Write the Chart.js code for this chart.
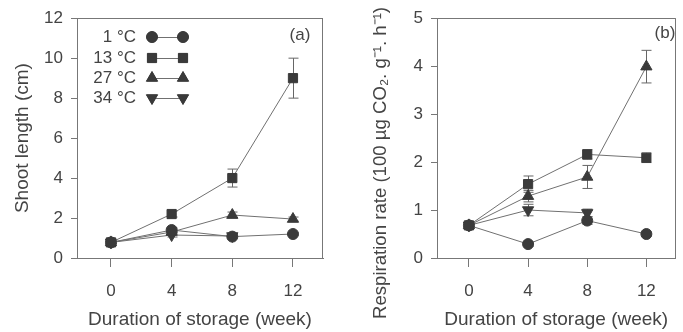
<!DOCTYPE html>
<html><head><meta charset="utf-8">
<script src="https://cdn.jsdelivr.net/npm/chart.js@4"></script>
<style>
html,body{margin:0;padding:0;background:#fff;}
#wrap{position:relative;width:683px;height:332px;overflow:hidden;background:#fff;}
#ca{position:absolute;left:0;top:0;}
#cb{position:absolute;left:340px;top:0;}
</style></head><body>
<div id="wrap"><canvas id="ca" width="340" height="332"></canvas><canvas id="cb" width="343" height="332"></canvas></div>
<script>
// ---------- data ----------
const weeks = [0, 4, 8, 12];
const xTicks = [0, 4, 8, 12];
const seriesNames = ['1 °C', '13 °C', '27 °C', '34 °C'];

// panel (a) shoot length (cm)
const shoot1  = [0.78, 1.40, 1.07, 1.20];
const shoot13 = [0.78, 2.20, 4.00, 9.00];
const shoot27 = [0.78, 1.30, 2.15, 1.95];
const shoot34 = [0.78, 1.15, 1.10, null];
const shootErr1  = [0.05, 0.10, 0.08, 0.08];
const shootErr13 = [0.05, 0.15, 0.45, 1.00];
const shootErr27 = [0.05, 0.10, 0.15, 0.10];
const shootErr34 = [0.05, 0.10, 0.10, null];
const shootTicks = [0, 2, 4, 6, 8, 10, 12];

// panel (b) respiration rate
const resp1  = [0.68, 0.29, 0.78, 0.50];
const resp13 = [0.68, 1.54, 2.16, 2.09];
const resp27 = [0.68, 1.29, 1.69, 3.99];
const resp34 = [0.68, 1.00, 0.94, null];
const respErr1  = [0.03, 0.05, 0.08, 0.05];
const respErr13 = [0.03, 0.17, 0.10, 0.10];
const respErr27 = [0.03, 0.12, 0.24, 0.34];
const respErr34 = [0.03, 0.12, 0.08, null];
const respTicks = [0, 1, 2, 3, 4, 5];

const xTitle = 'Duration of storage (week)';
const yTitleA = 'Shoot length (cm)';
const yTitleB = 'Respiration rate (100 µg CO₂. g⁻¹. h⁻¹)';

// ---------- styles ----------
const FONT = '"Liberation Sans", Arial, Helvetica, sans-serif';
const TEXT = '#444';
const AXIS = '#777';
const LINE = '#707070';
const MARK = '#3a3a3a';
const styles = [
  {pointStyle: 'circle',   radius: 5.5, rotation: 0},
  {pointStyle: 'rect',     radius: 6.5, rotation: 0},
  {pointStyle: 'triangle', radius: 6.5, rotation: 0},
  {pointStyle: 'triangle', radius: 6.5, rotation: 180}
];

function mkDatasets(vals, errs) {
  return vals.map((arr, k) => ({
    label: seriesNames[k],
    data: weeks.map((w, i) => ({x: w, y: arr[i]})).filter(p => p.y !== null),
    errors: errs[k],
    borderColor: LINE,
    borderWidth: 1,
    backgroundColor: MARK,
    pointBackgroundColor: MARK,
    pointBorderColor: MARK,
    pointBorderWidth: 1,
    pointStyle: styles[k].pointStyle,
    pointRadius: styles[k].radius,
    pointRotation: styles[k].rotation,
    tension: 0,
    fill: false
  }));
}

const errorBars = {
  id: 'errorBars',
  beforeDatasetsDraw(chart) {
    const {ctx, scales: {x, y}} = chart;
    ctx.save();
    ctx.strokeStyle = '#666';
    ctx.lineWidth = 1;
    chart.data.datasets.forEach(ds => {
      ds.data.forEach((p, i) => {
        const e = ds.errors[i];
        if (p.y === null || !e) return;
        const px = Math.round(x.getPixelForValue(p.x)) + 0.5;
        const t = y.getPixelForValue(p.y + e), b = y.getPixelForValue(p.y - e);
        ctx.beginPath();
        ctx.moveTo(px, t); ctx.lineTo(px, b);
        ctx.moveTo(px - 5, t); ctx.lineTo(px + 5, t);
        ctx.moveTo(px - 5, b); ctx.lineTo(px + 5, b);
        ctx.stroke();
      });
    });
    ctx.restore();
  }
};

function frame(label, lx, ly, legend, sideTitle) {
  return {
    id: 'frame',
    afterDraw(chart) {
      const {ctx, chartArea: a} = chart;
      ctx.save();
      ctx.strokeStyle = AXIS;
      ctx.lineWidth = 1;
      ctx.beginPath();
      ctx.moveTo(a.left, Math.round(a.top) + 0.5);
      ctx.lineTo(a.right, Math.round(a.top) + 0.5);
      ctx.moveTo(Math.round(a.right) - 0.5, a.top);
      ctx.lineTo(Math.round(a.right) - 0.5, a.bottom);
      ctx.stroke();
      ctx.fillStyle = TEXT;
      ctx.font = '17px ' + FONT;
      ctx.textAlign = 'center';
      ctx.textBaseline = 'middle';
      ctx.fillText(label, lx, ly);
      if (sideTitle) {
        ctx.save();
        ctx.font = '18.6px ' + FONT;
        ctx.translate(41, 163);
        ctx.rotate(-Math.PI / 2);
        ctx.fillText(sideTitle, 0, 0);
        ctx.restore();
      }
      if (legend) {
        const rows = [37, 58, 78, 98];
        seriesNames.forEach((n, k) => {
          const yy = rows[k];
          ctx.fillStyle = TEXT;
          ctx.textAlign = 'right';
          ctx.fillText(n, 136, yy);
          ctx.strokeStyle = LINE;
          ctx.beginPath();
          ctx.moveTo(152, yy + 0.5); ctx.lineTo(183, yy + 0.5);
          ctx.stroke();
          [152, 183].forEach(mx => {
            ctx.fillStyle = MARK; ctx.strokeStyle = MARK;
            Chart.helpers.drawPoint(ctx, {pointStyle: styles[k].pointStyle, radius: styles[k].radius, rotation: styles[k].rotation, borderWidth: 1}, mx, yy);
            ctx.fill();
          });
        });
      }
      ctx.restore();
    }
  };
}

function mkChart(id, datasets, yTicks, ymax, yTitle, yW, titlePad, xmin, xmax, rightPad, plugins) {
  return new Chart(document.getElementById(id), {
    type: 'line',
    data: {datasets},
    options: {
      responsive: false,
      animation: false,
      devicePixelRatio: 1,
      layout: {padding: {top: 18, right: rightPad, left: 0, bottom: 0}},
      plugins: {legend: {display: false}, tooltip: {enabled: false}},
      scales: {
        x: {
          type: 'linear', min: xmin, max: xmax,
          afterBuildTicks: s => { s.ticks = xTicks.map(v => ({value: v})); },
          afterFit: s => { s.height = 74; },
          grid: {drawOnChartArea: false, drawTicks: true, tickLength: 9, color: AXIS},
          border: {display: true, color: AXIS},
          ticks: {font: {family: FONT, size: 17}, color: TEXT, padding: 14, maxRotation: 0},
          title: {display: true, text: xTitle, font: {family: FONT, size: 19}, color: TEXT, padding: {top: 0, bottom: 1}}
        },
        y: {
          min: 0, max: ymax,
          afterBuildTicks: s => { s.ticks = yTicks.map(v => ({value: v})); },
          afterFit: s => { s.width = yW; },
          grid: {drawOnChartArea: false, drawTicks: true, tickLength: 6, color: AXIS},
          border: {display: true, color: AXIS},
          ticks: {font: {family: FONT, size: 17}, color: TEXT, padding: 8},
          title: {display: !!yTitle, text: yTitle || '', font: {family: FONT, size: 19}, color: TEXT, padding: {top: titlePad, bottom: 0}}
        }
      }
    },
    plugins
  });
}

mkChart('ca',
  mkDatasets([shoot1, shoot13, shoot27, shoot34], [shootErr1, shootErr13, shootErr27, shootErr34]),
  shootTicks, 12, yTitleA, 77, 11, -2.24, 13.98, 17,
  [errorBars, frame('(a)', 300, 35, true, null)]);

mkChart('cb',
  mkDatasets([resp1, resp13, resp27, resp34], [respErr1, respErr13, respErr27, respErr34]),
  respTicks, 5, null, 97, 0, -2.16, 13.97, 0,
  [errorBars, frame('(b)', 325, 33, false, yTitleB)]);
</script>
</body></html>
